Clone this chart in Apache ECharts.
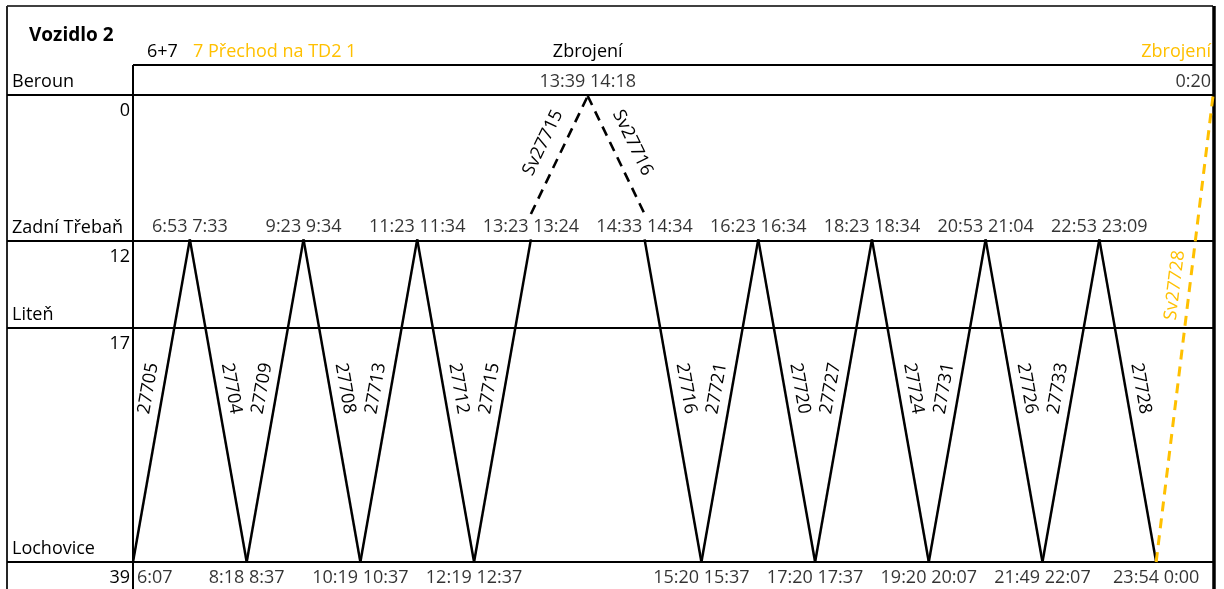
<!DOCTYPE html>
<html><head><meta charset="utf-8">
<script src="https://cdn.jsdelivr.net/npm/echarts@6/dist/echarts.min.js"></script>
<style>html,body{margin:0;padding:0;background:#fff}#c{width:1224px;height:589px}</style>
</head><body><div id="c"></div>
<script>
// ---------- DATA ----------
const stationNames = ['Beroun', 'Zadní Třebaň', 'Liteň', 'Lochovice'];
const stationKm = [0, 12, 17, 39];
// station of each timetable node (index into stationNames)
const nodeStation = [3, 1, 3, 1, 3, 1, 3, 1, 0, 1, 3, 1, 3, 1, 3, 1, 3, 1, 3, 0];
const arrivals   = ['', '6:53', '8:18', '9:23', '10:19', '11:23', '12:19', '13:23', '13:39', '14:33', '15:20', '16:23', '17:20', '18:23', '19:20', '20:53', '21:49', '22:53', '23:54', '0:20'];
const departures = ['6:07', '7:33', '8:37', '9:34', '10:37', '11:34', '12:37', '13:24', '14:18', '14:34', '15:37', '16:34', '17:37', '18:34', '20:07', '21:04', '22:07', '23:09', '0:00', ''];
// train of each segment node i -> node i+1
const trains = ['27705', '27704', '27709', '27708', '27713', '27712', '27715', 'Sv27715', 'Sv27716', '27716', '27721', '27720', '27727', '27724', '27731', '27726', '27733', '27728', 'Sv27728'];
const trainKind = ['solid', 'solid', 'solid', 'solid', 'solid', 'solid', 'solid', 'dash', 'dash', 'solid', 'solid', 'solid', 'solid', 'solid', 'solid', 'solid', 'solid', 'solid', 'gold'];
const headerTitle = 'Vozidlo 2';
const headerNotes = ['6+7', '7 Přechod na TD2 1', 'Zbrojení', 'Zbrojení'];

// ---------- LAYOUT / STYLE ----------
const FONT = 'Open Sans';
const FS = 18;
const BLACK = '#000000', GOLD = '#FFC000';
const tableRowY = [95, 241, 328, 562]; // spreadsheet row borders for each station
const headerLineY = 65;
const frameLeft = 7, frameTop = 6, axisLeft = 133, frameRight = 1213, H = 589;
const dashAxisMax = 47.4; // secondary (hidden) vertical scale used by the dashed runs

const nodeKm = nodeStation.map(s => stationKm[s]);
const pt = i => [i, nodeKm[i]];

const styleOf = k => k === 'gold'
  ? { color: GOLD, width: 3, type: [10, 7] }
  : k === 'dash' ? { color: BLACK, width: 2.6, type: [10, 7] }
  : { color: BLACK, width: 2.5, type: 'solid' };

function labelPlace(i) {
  if (trainKind[i] === 'dash') return { f: 0.47, d: 11 };
  if (trainKind[i] === 'gold') return { f: 0.41, d: 6 };
  return { f: 0.47, d: 6 };
}

const series = [];
trains.forEach((t, i) => {
  const p0 = pt(i), p1 = pt(i + 1);
  const top = p0[1] < p1[1] ? p0 : p1;
  const bot = p0[1] < p1[1] ? p1 : p0;
  const lp = labelPlace(i);
  const at = u => [top[0] + u * (bot[0] - top[0]), top[1] + u * (bot[1] - top[1])];
  let a = at(lp.f - 0.04), b = at(lp.f + 0.04);
  if (a[0] > b[0]) { const tmp = a; a = b; b = tmp; }
  const st = styleOf(trainKind[i]);
  series.push({
    type: 'line', data: [p0, p1], symbol: 'none', clip: false, silent: true, animation: false,
    yAxisIndex: trainKind[i] === 'dash' ? 1 : 0,
    lineStyle: st, z: 3,
    markLine: {
      symbol: ['none', 'none'], silent: true, animation: false,
      lineStyle: { color: 'rgba(0,0,0,0)', width: 1, type: 'solid' },
      label: { show: true, position: 'insideMiddleTop', distance: lp.d, formatter: t,
        color: trainKind[i] === 'gold' ? GOLD : BLACK, fontFamily: FONT, fontSize: FS },
      emphasis: { disabled: true },
      data: [[{ coord: a }, { coord: b }]]
    }
  });
});

// time labels at nodes
const timeData = nodeStation.map((s, i) => {
  const text = [arrivals[i], departures[i]].filter(Boolean).join(' ');
  let offset = s === 3 ? [0, 16] : s === 0 ? [0, -14] : [0, -13];
  let align = 'center';
  if (i === 0) { align = 'left'; offset = [4, 16]; }
  if (i === nodeStation.length - 1) { align = 'right'; offset = [-2, -14]; }
  return { name: text, value: pt(i), label: { offset, align } };
});
series.push({
  type: 'scatter', symbolSize: 1, silent: true, animation: false, clip: false,
  itemStyle: { color: 'rgba(0,0,0,0)' }, z: 4,
  label: { show: true, position: 'inside', formatter: '{b}', color: BLACK, fontFamily: FONT, fontSize: FS, verticalAlign: 'middle' },
  data: timeData
});

const chart = echarts.init(document.getElementById('c'));
const yMax = stationKm[stationKm.length - 1];
chart.setOption({
  backgroundColor: '#fff',
  animation: false,
  grid: { left: axisLeft, right: 1224 - frameRight, top: 96, bottom: H - 562 },
  xAxis: { type: 'value', min: 0, max: nodeStation.length - 1, show: false },
  yAxis: [
    { type: 'value', min: 0, max: yMax, inverse: true, show: false },
    { type: 'value', min: 0, max: dashAxisMax, inverse: true, show: false }
  ],
  series
});

// spreadsheet-like frame & texts
const g = [];
const line = (x1, y1, x2, y2, w, c) => g.push({ type: 'line', silent: true, z: 1,
  shape: { x1, y1, x2, y2 }, style: { stroke: c || BLACK, lineWidth: w } });
const text = (t, x, y, opt) => g.push({ type: 'text', silent: true, z: 5,
  style: Object.assign({ text: t, x, y, fill: BLACK, fontFamily: FONT, fontSize: FS, align: 'left', verticalAlign: 'middle' }, opt || {}) });

line(frameLeft, frameTop, frameRight, frameTop, 2, '#404040');
line(frameLeft, frameTop, frameLeft, H, 2, '#262626');
line(axisLeft, headerLineY, frameRight, headerLineY, 2);
tableRowY.forEach(y => line(frameLeft, y, frameRight, y, 2));
line(axisLeft, headerLineY, axisLeft, H, 2);
line(frameRight + 1, frameTop, frameRight + 1, H, 3.5);

stationNames.forEach((n, k) => {
  text(n, 12, tableRowY[k] - 13);
  text(String(stationKm[k]), 130, tableRowY[k] + 16, { align: 'right' });
});
const xZ = chart.convertToPixel({ gridIndex: 0 }, [8, 0])[0];
text(headerTitle, 29, 36, { fontWeight: 'bold', fontSize: 19 });
text(headerNotes[0], 147, 52);
text(headerNotes[1], 193, 52, { fill: GOLD });
text(headerNotes[2], xZ, 52, { align: 'center' });
text(headerNotes[3], 1211, 52, { align: 'right', fill: GOLD });

chart.setOption({ graphic: g });
</script></body></html>
